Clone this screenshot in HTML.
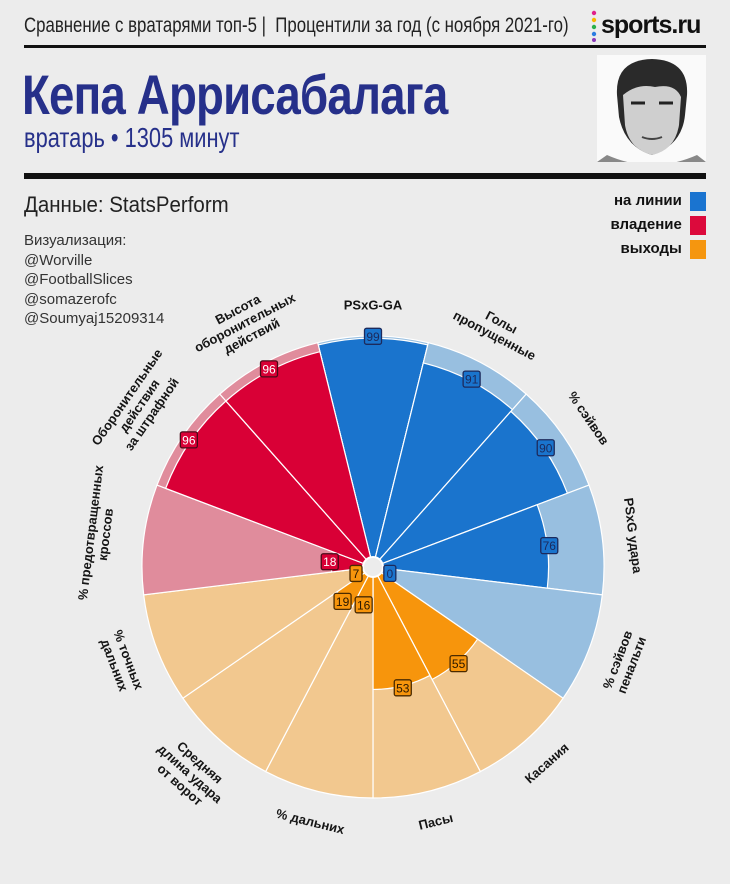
<!DOCTYPE html>
<html><head><meta charset="utf-8">
<style>
html,body{margin:0;padding:0;background:#ececec;}
body{width:730px;height:884px;position:relative;overflow:hidden;font-family:"Liberation Sans",sans-serif;color:#222;}
.abs{position:absolute;}
.sq{transform-origin:0 0;white-space:nowrap;}
</style></head>
<body>
<div class="abs sq" style="left:24px;top:14px;font-size:21px;color:#222;transform:scaleX(0.8);">Сравнение с вратарями топ-5 |&nbsp; Процентили за год (с ноября 2021-го)</div>
<div class="abs" style="left:590px;top:6px;">
  <svg width="120" height="36"><circle cx="4" cy="7" r="2.2" fill="#e0218a"/><circle cx="4" cy="14" r="2.2" fill="#f7b500"/><circle cx="4" cy="21" r="2.2" fill="#2ab04a"/><circle cx="4" cy="28" r="2.2" fill="#2b7de1"/><circle cx="4" cy="34" r="2" fill="#8a3ab9"/>
  <text x="11" y="27" font-family="Liberation Sans" font-weight="bold" font-size="25" fill="#111" letter-spacing="-1">sports.ru</text></svg>
</div>
<div class="abs" style="left:24px;top:45px;width:682px;height:3px;background:#111;"></div>
<div class="abs sq" style="left:22px;top:62px;font-size:56px;font-weight:bold;color:#26308a;letter-spacing:-1px;transform:scaleX(0.815);">Кепа Аррисабалага</div>
<div class="abs sq" style="left:24px;top:122px;font-size:28px;color:#26308a;transform:scaleX(0.78);">вратарь • 1305 минут</div>
<div class="abs" style="left:597px;top:55px;width:109px;height:107px;background:#fafafa;overflow:hidden;">
  <svg width="109" height="107"><path d="M20 40 Q18 5 55 4 Q92 5 90 40 L88 60 Q85 90 55 100 Q28 92 22 62 Z" fill="#2a2a2a"/><path d="M26 40 Q40 28 58 32 Q78 28 84 42 L82 70 Q78 95 55 100 Q32 94 28 70 Z" fill="#cfcfcf"/><path d="M34 48 h14 M62 48 h14" stroke="#222" stroke-width="3"/><path d="M45 82 q10 4 20 0" stroke="#444" stroke-width="2" fill="none"/><path d="M0 107 L10 100 Q55 120 100 100 L109 107 Z" fill="#888"/></svg>
</div>
<div class="abs" style="left:24px;top:173px;width:682px;height:6px;background:#111;"></div>
<div class="abs sq" style="left:24px;top:192px;font-size:22px;color:#222;transform:scaleX(0.93);">Данные: StatsPerform</div>
<div class="abs" style="left:24px;top:231px;font-size:15px;line-height:19.5px;color:#333;">Визуализация:<br>@Worville<br>@FootballSlices<br>@somazerofc<br>@Soumyaj15209314</div>
<div class="abs" style="right:24px;top:191px;text-align:right;font-size:15px;font-weight:bold;color:#111;">
  <div style="height:24px;line-height:20px;">на линии <span style="display:inline-block;width:16px;height:19px;background:#1a74d0;vertical-align:middle;margin-left:4px;"></span></div>
  <div style="height:24px;line-height:20px;">владение <span style="display:inline-block;width:16px;height:19px;background:#dc0a3c;vertical-align:middle;margin-left:4px;"></span></div>
  <div style="height:24px;line-height:20px;">выходы <span style="display:inline-block;width:16px;height:19px;background:#f5960f;vertical-align:middle;margin-left:4px;"></span></div>
</div>
<svg id="chart" class="abs" style="left:0;top:0;" width="730" height="884"></svg>
<script>
const categories=[["PSxG-GA"],["Голы","пропущенные"],["% сэйвов"],["PSxG удара"],["% сэйвов","пенальти"],["Касания"],["Пасы"],["% дальних"],["Средняя","длина удара","от ворот"],["% точных","дальних"],["% предотвращенных","кроссов"],["Оборонительные","действия","за штрафной"],["Высота","оборонительных","действий"]];
const values=[99,91,90,76,0,55,53,16,19,7,18,96,96];
const groups=["line","line","line","line","line","exit","exit","exit","exit","exit","poss","poss","poss"];
const strong={line:"#1a74cd",poss:"#d90036",exit:"#f7950c"};
const light={line:"#98bfe0",poss:"#e08c9c",exit:"#f2c88f"};
const edge={line:"#1c2a5c",poss:"#4a0a18",exit:"#4a2a00"};
const NS="http://www.w3.org/2000/svg";
const svg=document.getElementById('chart');
const cx=373,cy=567,R=231,n=values.length,step=360/n;
function rScale(v){return v/100*R;}
function pt(a,r){const t=a*Math.PI/180;return [cx+r*Math.sin(t),cy-r*Math.cos(t)];}
function wedge(a0,a1,r){const p0=pt(a0,r),p1=pt(a1,r);return `M${cx},${cy} L${p0[0]},${p0[1]} A${r},${r} 0 0 1 ${p1[0]},${p1[1]} Z`;}
function mk(tag,attrs){const e=document.createElementNS(NS,tag);for(const k in attrs)e.setAttribute(k,attrs[k]);svg.appendChild(e);return e;}
for(let i=0;i<n;i++){
  const a0=(i-0.5)*step,a1=(i+0.5)*step;
  const bg=mk('path',{d:wedge(a0,a1,R),fill:light[groups[i]],stroke:"#fff","stroke-width":1.2});
  
  
  if(values[i]>0){
    const f=mk('path',{d:wedge(a0,a1,rScale(values[i])),fill:strong[groups[i]],stroke:"#fff","stroke-width":1.2});
    
    
  }
}
const hole=mk('circle',{cx:cx,cy:cy,r:10,fill:"#ececec",stroke:"#fff","stroke-width":2});


for(let i=0;i<n;i++){
  const a=i*step;
  const rv=Math.max(rScale(values[i])+2,18);
  const p=pt(a,rv);
  const g=mk('g',{transform:`translate(${p[0]},${p[1]})`});
  
  
  const r=document.createElementNS(NS,'rect');
  const w=String(values[i]).length>1?17:12;
  r.setAttribute('x',-w/2);r.setAttribute('y',-8);r.setAttribute('width',w);r.setAttribute('height',16);r.setAttribute('rx',2);
  r.setAttribute('fill',strong[groups[i]]);r.setAttribute('stroke',edge[groups[i]]);r.setAttribute('stroke-width',1.3);
  g.appendChild(r);
  const t=document.createElementNS(NS,'text');
  t.setAttribute('x',0);t.setAttribute('y',4.5);t.setAttribute('text-anchor','middle');
  t.setAttribute('font-family','Liberation Sans, sans-serif');t.setAttribute('font-size','12');
  t.setAttribute('fill',groups[i]==='exit'?'#2a1800':'#1c2a5c');
  if(groups[i]==='poss')t.setAttribute('fill','#fff');
  t.textContent=values[i];
  g.appendChild(t);
}
for(let i=0;i<n;i++){
  const a=i*step;const lines=categories[i];
  const rl=262+(lines.length-1)*7+(lines[0].length>12?8:0);
  const p=pt(a,rl);
  const rot=(a>90&&a<270)?a-180:(a>=270?a-360:a);
  const g=mk('g',{transform:`translate(${p[0]},${p[1]}) rotate(${rot})`});
  
  
  lines.forEach((ln,j)=>{
    const t=document.createElementNS(NS,'text');
    t.setAttribute('x',0);t.setAttribute('y',(j-(lines.length-1)/2)*15+4.5);
    t.setAttribute('text-anchor','middle');t.setAttribute('font-family','Liberation Sans, sans-serif');
    t.setAttribute('font-size','13');t.setAttribute('font-weight','bold');t.setAttribute('fill','#151515');
    t.textContent=ln;g.appendChild(t);
  });
}
</script>
</body></html>
